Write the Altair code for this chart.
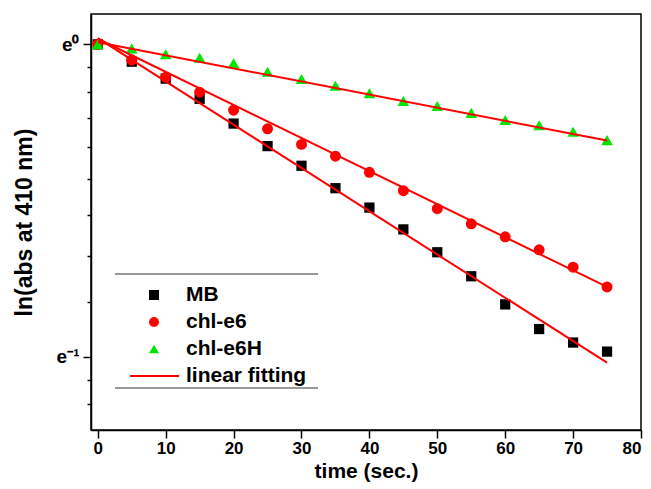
import math
import altair as alt
import pandas as pd

# ---- data (relative absorbance A/A0, plotted on ln scale) ----
time = [0, 5, 10, 15, 20, 25, 30, 35, 40, 45, 50, 55, 60, 65, 70, 75]
mb = [1.000, 0.946, 0.896, 0.840, 0.776, 0.722, 0.678, 0.631, 0.593, 0.553,
      0.514, 0.476, 0.435, 0.402, 0.385, 0.374]
chl_e6 = [1.000, 0.951, 0.900, 0.858, 0.810, 0.763, 0.726, 0.699, 0.664, 0.626,
          0.591, 0.563, 0.540, 0.518, 0.490, 0.460]
chl_e6h = [1.000, 0.987, 0.969, 0.958, 0.941, 0.916, 0.895, 0.876, 0.855, 0.834,
           0.821, 0.803, 0.785, 0.772, 0.756, 0.736]

series_names = ["MB", "chl-e6", "chl-e6H"]
series_shapes = ["square", "circle", "triangle-up"]
series_colors = ["#000000", "#ff0000", "#00e600"]
series_sizes = [105, 135, 115]

fit_time = [0, 75]
fit_mb = [1.020, 0.361]
fit_e6 = [1.018, 0.460]
fit_e6h = [1.007, 0.735]

legend_labels = ["MB", "chl-e6", "chl-e6H", "linear fitting"]

x_ticks = list(range(0, 81, 5))
y_major = [1.0, math.exp(-1)]
y_minor = [1 - k * (1 - math.exp(-1)) / 9 for k in range(1, 9)] + \
          [math.exp(-1) - k * (math.exp(-1) - math.exp(-2)) / 9 for k in range(1, 3)]
y_ticks = y_major + y_minor

# ---- tables ----
rows = []
for name, vals in zip(series_names, [mb, chl_e6, chl_e6h]):
    for t, v in zip(time, vals):
        rows.append({"t": t, "v": v, "series": name})
pts = pd.DataFrame(rows)

frows = []
for name, vals in zip(series_names, [fit_mb, fit_e6, fit_e6h]):
    for t, v in zip(fit_time, vals):
        frows.append({"t": t, "v": v, "series": name})
fits = pd.DataFrame(frows)

leg = pd.DataFrame({"label": legend_labels, "row": list(range(len(legend_labels)))})

FONT = "Liberation Sans"

x_enc = alt.X("t:Q", scale=alt.Scale(domain=[-1, 80], nice=False, zero=False),
              axis=alt.Axis(values=x_ticks, title="time (sec.)",
                            labelExpr="datum.value % 10 == 0 ? datum.value : ''",
                            tickSize={"condition": {"test": "datum.value % 10 == 0", "value": 8}, "value": 4},
                            labelOverlap=False, labelPadding=2, titlePadding=4))
y_enc = alt.Y("v:Q", scale=alt.Scale(type="log", base=math.e, domain=[0.291, 1.102], nice=False, zero=False),
              axis=alt.Axis(values=y_ticks, title="ln(abs at 410 nm)",
                            labelExpr="datum.value > 0.99 ? 'e⁰' : ((datum.value > 0.36 && datum.value < 0.37) ? 'e⁻¹' : '')",
                            tickSize={"condition": {"test": "datum.value > 0.99 || (datum.value > 0.36 && datum.value < 0.37)", "value": 8}, "value": 4},
                            labelOverlap=False, labelFontSize=19, titlePadding=20))

shape_scale = alt.Scale(domain=series_names, range=series_shapes)
color_scale = alt.Scale(domain=series_names, range=series_colors)
size_scale = alt.Scale(domain=series_names, range=series_sizes)

points = alt.Chart(pts).mark_point(filled=True, opacity=1).encode(
    x=x_enc, y=y_enc,
    shape=alt.Shape("series:N", scale=shape_scale, legend=None),
    color=alt.Color("series:N", scale=color_scale, legend=None),
    size=alt.Size("series:N", scale=size_scale, legend=None),
)

lines = alt.Chart(fits).mark_line(color="#ff0000", strokeWidth=2).encode(
    x="t:Q", y="v:Q", detail="series:N"
)

# ---- custom legend ----
leg_base = alt.Chart(leg).transform_calculate(ypix="281 + datum.row * 27")
leg_sym = leg_base.transform_filter("datum.row < 3").mark_point(filled=True, opacity=1).encode(
    x=alt.value(63), y=alt.Y("ypix:Q", scale=None),
    shape=alt.Shape("label:N", scale=shape_scale, legend=None),
    color=alt.Color("label:N", scale=color_scale, legend=None),
    size=alt.value(100),
)
leg_text = leg_base.mark_text(align="left", baseline="middle", font=FONT, fontWeight="bold",
                              fontSize=21, color="black").encode(
    x=alt.value(95), y=alt.Y("ypix:Q", scale=None), text="label:N"
)
leg_line = alt.Chart(leg).transform_filter("datum.row == 3").mark_rule(color="#ff0000", strokeWidth=2).encode(
    x=alt.value(39), x2=alt.value(88), y=alt.value(362)
)
leg_top = alt.Chart(leg).transform_filter("datum.row == 0").mark_rule(color="#333333", strokeWidth=1).encode(
    x=alt.value(24), x2=alt.value(227), y=alt.value(260)
)
leg_bot = alt.Chart(leg).transform_filter("datum.row == 0").mark_rule(color="#333333", strokeWidth=1).encode(
    x=alt.value(24), x2=alt.value(227), y=alt.value(374)
)

chart = alt.layer(points, lines, leg_top, leg_bot, leg_sym, leg_line, leg_text).properties(
    width=550, height=416,
    padding={"left": 83, "top": 6, "right": 2, "bottom": 58},
    autosize=alt.AutoSizeParams(type="none"),
    background="white",
).configure_view(
    stroke="black", strokeWidth=1.5
).configure_axis(
    grid=False, domainColor="black", domainWidth=1.5, tickColor="black", tickWidth=1.5,
    labelFont=FONT, labelFontWeight="bold", labelFontSize=17, labelColor="black", labelPadding=4,
    titleFont=FONT, titleFontWeight="bold", titleColor="black",
).configure_axisX(
    titleFontSize=21
).configure_axisY(
    titleFontSize=23
)

chart.save("out.html", embed_options={"renderer": "svg", "actions": False})
